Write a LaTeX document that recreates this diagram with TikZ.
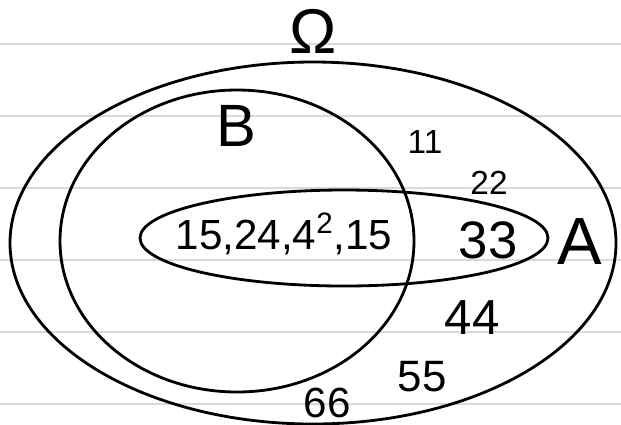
\documentclass[tikz,border=0pt]{standalone}
\usepackage{fontspec}
\setmainfont{Liberation Sans}
\begin{document}
\begin{tikzpicture}[x=0.02cm, y=-0.02cm,
    pen/.style={black, line width=1.6pt},
    rule/.style={black!15, line width=1.3pt},
    hand/.style={inner sep=0pt, font=\fontsize{#1}{#1}\selectfont}]
    \useasboundingbox (0,0) rectangle (621,424);
    \clip (0,0) rectangle (621,424);
    %, paper lines ---
    \foreach \y in {44,116,...,404}
        \draw[rule] (0,\y) -- (621,\y);
    %, sets ---
    \draw[pen] (313,243) ellipse [x radius=303, y radius=181];
    \draw[pen] (237,241) ellipse [x radius=177, y radius=151];
    \draw[pen] (344,238) ellipse [x radius=204, y radius=48];
    %, labels ---
    \node[hand=36] (omega) at (313,31) {Ω};
    \node[hand=34] (setB) at (236,126) {B};
    \node[hand=38] (setA) at (580,242) {A};
    %, elements ---
    \node[hand=24] (inter) at (284,234) {15,24,4\textsuperscript{2},15};
    \node[hand=30] (e33) at (488,240) {33};
    \node[hand=19] (e11) at (425,142) {11};
    \node[hand=19] (e22) at (489,183) {22};
    \node[hand=28] (e44) at (472,318) {44};
    \node[hand=25] (e55) at (422,377) {55};
    \node[hand=24] (e66) at (327,403) {66};
\end{tikzpicture}
\end{document}
